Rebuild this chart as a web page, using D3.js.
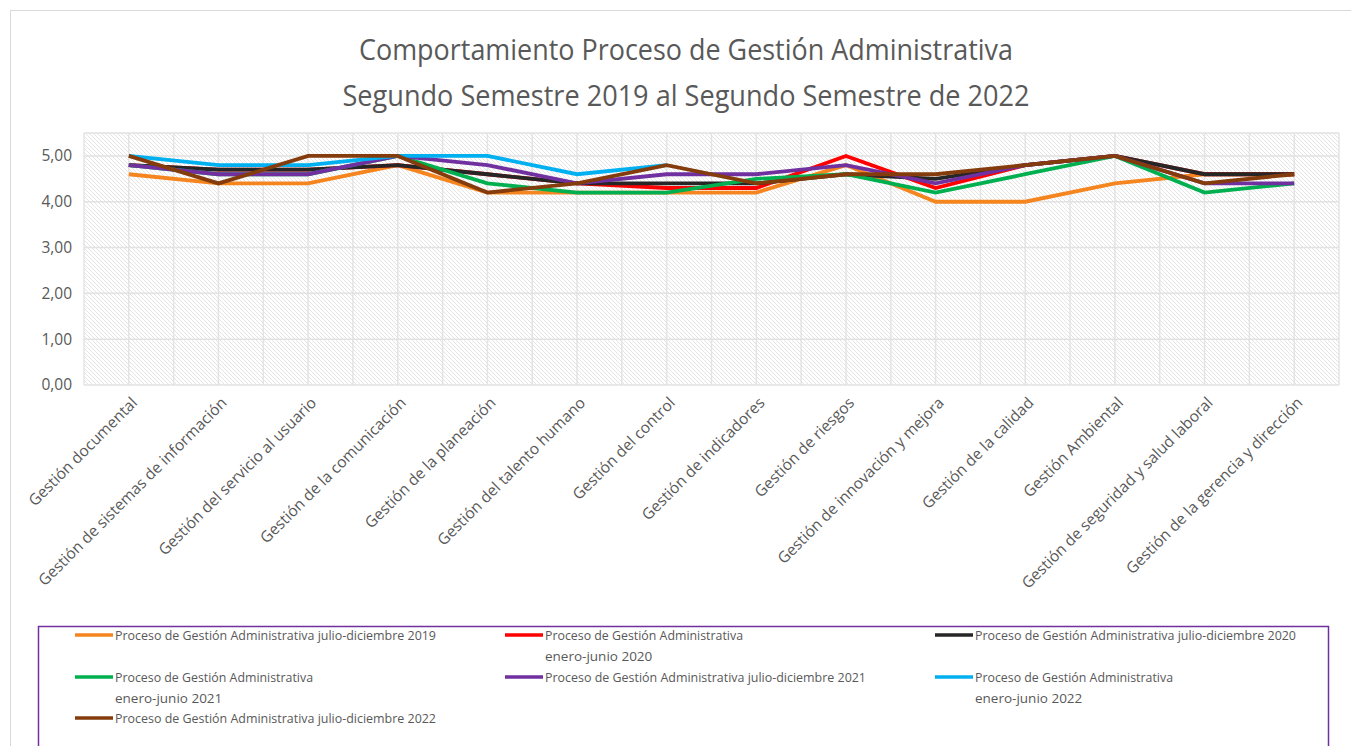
<!DOCTYPE html>
<html lang="es">
<head>
<meta charset="utf-8">
<script src="https://cdn.jsdelivr.net/npm/d3@7"></script>
<style>
  html, body { margin: 0; padding: 0; background: #fff; }
  svg { display: block; font-family: "Open Sans", "Noto Sans", sans-serif; }
</style>
</head>
<body>
<svg id="chart" width="1351" height="746"></svg>
<script>
// Áreas evaluadas del proceso
const categories = [
  "Gestión documental",
  "Gestión de sistemas de información",
  "Gestión del servicio al usuario",
  "Gestión de la comunicación",
  "Gestión de la planeación",
  "Gestión del talento humano",
  "Gestión del control",
  "Gestión de indicadores",
  "Gestión de riesgos",
  "Gestión de innovación y mejora",
  "Gestión de la calidad",
  "Gestión Ambiental",
  "Gestión de seguridad y salud laboral",
  "Gestión de la gerencia y dirección"
];

// Calificaciones por semestre
const jd2019 = [4.6, 4.4, 4.4, 4.8, 4.2, 4.2, 4.2, 4.2, 4.8, 4.0, 4.0, 4.4, 4.6, 4.6];
const ej2020 = [4.8, 4.7, 4.7, 4.8, 4.6, 4.4, 4.3, 4.3, 5.0, 4.3, 4.8, 5.0, 4.6, 4.6];
const jd2020 = [4.8, 4.7, 4.7, 4.8, 4.6, 4.4, 4.4, 4.4, 4.6, 4.5, 4.8, 5.0, 4.6, 4.6];
const ej2021 = [4.8, 4.6, 4.6, 5.0, 4.4, 4.2, 4.2, 4.5, 4.6, 4.2, 4.6, 5.0, 4.2, 4.4];
const jd2021 = [4.8, 4.6, 4.6, 5.0, 4.8, 4.4, 4.6, 4.6, 4.8, 4.4, 4.8, 5.0, 4.4, 4.4];
const ej2022 = [5.0, 4.8, 4.8, 5.0, 5.0, 4.6, 4.8, null, null, null, null, null, null, null];
const jd2022 = [5.0, 4.4, 5.0, 5.0, 4.2, 4.4, 4.8, 4.4, 4.6, 4.6, 4.8, 5.0, 4.4, 4.6];

const yTicks = [0, 1, 2, 3, 4, 5];

const titleLines = [
  "Comportamiento Proceso de Gestión Administrativa",
  "Segundo Semestre 2019 al Segundo Semestre de 2022"
];

const series = [
  { name: ["Proceso de Gestión Administrativa julio-diciembre 2019"], values: jd2019, color: "#F5851F" },
  { name: ["Proceso de Gestión Administrativa", "enero-junio 2020"], values: ej2020, color: "#FF0000" },
  { name: ["Proceso de Gestión Administrativa julio-diciembre 2020"], values: jd2020, color: "#262626" },
  { name: ["Proceso de Gestión Administrativa", "enero-junio 2021"], values: ej2021, color: "#00B050" },
  { name: ["Proceso de Gestión Administrativa julio-diciembre 2021"], values: jd2021, color: "#7030A0" },
  { name: ["Proceso de Gestión Administrativa", "enero-junio 2022"], values: ej2022, color: "#00B0F0" },
  { name: ["Proceso de Gestión Administrativa julio-diciembre 2022"], values: jd2022, color: "#843C0C" }
];

const svg = d3.select("#chart");
const textColor = "#595959";

// chart frame
svg.append("rect")
  .attr("x", 10.5).attr("y", 10.5)
  .attr("width", 1345).attr("height", 745)
  .attr("fill", "#fff").attr("stroke", "#d9d9d9");

// title
svg.append("g").selectAll("text")
  .data(titleLines)
  .join("text")
  .attr("x", 686)
  .attr("y", (d, i) => 60 + i * 46)
  .attr("text-anchor", "middle")
  .attr("font-size", 30)
  .attr("fill", textColor)
  .attr("textLength", (d, i) => i === 0 ? 654 : 687)
  .attr("lengthAdjust", "spacingAndGlyphs")
  .text(d => d);

// plot area
const plot = { left: 84, right: 1339, top: 133, bottom: 385 };

const x = d3.scalePoint()
  .domain(categories)
  .range([plot.left, plot.right])
  .padding(0.5);

const y = d3.scaleLinear()
  .domain([0, 5.5])
  .range([plot.bottom, plot.top]);

// diagonal hatch fill
const defs = svg.append("defs");
const pat = defs.append("pattern")
  .attr("id", "hatch")
  .attr("patternUnits", "userSpaceOnUse")
  .attr("width", 4).attr("height", 4);
pat.append("rect").attr("width", 4).attr("height", 4).attr("fill", "#ffffff");
pat.append("path")
  .attr("d", "M-1,-1 L5,5 M-1,3 L1,5 M3,-1 L5,1")
  .attr("stroke", "#e1e1e1")
  .attr("stroke-width", 0.9);

svg.append("rect")
  .attr("x", plot.left).attr("y", plot.top)
  .attr("width", plot.right - plot.left)
  .attr("height", plot.bottom - plot.top)
  .attr("fill", "url(#hatch)");

// vertical grid: category centres and band edges
const step = x.step();
const vLines = [];
categories.forEach(c => { vLines.push(x(c) - step / 2); vLines.push(x(c)); });
vLines.push(x(categories[categories.length - 1]) + step / 2);

svg.append("g").selectAll("line")
  .data(vLines)
  .join("line")
  .attr("x1", d => d).attr("x2", d => d)
  .attr("y1", plot.top).attr("y2", plot.bottom)
  .attr("stroke", "#e4e4e4").attr("stroke-width", 1.5);

// horizontal grid
svg.append("g").selectAll("line")
  .data(yTicks.concat([5.5]))
  .join("line")
  .attr("x1", plot.left).attr("x2", plot.right)
  .attr("y1", d => y(d)).attr("y2", d => y(d))
  .attr("stroke", "#e2e2e2").attr("stroke-width", 1.5);

// y axis labels
const fmt = d => d.toFixed(2).replace(".", ",");
const yAxis = d3.axisLeft(y).tickValues(yTicks).tickFormat(fmt).tickSize(0).tickPadding(12);
const yg = svg.append("g")
  .attr("transform", `translate(${plot.left},0)`)
  .call(yAxis);
yg.select(".domain").remove();
yg.selectAll("text")
  .attr("font-size", 15.5)
  .attr("fill", textColor)
  .attr("font-family", "'Open Sans', sans-serif");

// x axis labels, rotated
const xAxis = d3.axisBottom(x).tickSize(0).tickPadding(0);
const xg = svg.append("g")
  .attr("transform", `translate(0,${plot.bottom})`)
  .call(xAxis);
xg.select(".domain").remove();
xg.selectAll(".tick text")
  .attr("text-anchor", "end")
  .attr("font-size", 15.5)
  .attr("fill", textColor)
  .attr("font-family", "'Open Sans', sans-serif")
  .attr("dy", "0.35em")
  .attr("y", 0)
  .attr("transform", "translate(5,15) rotate(-45)");

// lines
const line = d3.line()
  .defined(d => d != null)
  .x((d, i) => x(categories[i]))
  .y(d => y(d));

svg.append("g").selectAll("path")
  .data(series)
  .join("path")
  .attr("fill", "none")
  .attr("stroke", d => d.color)
  .attr("stroke-width", 3.8)
  .attr("stroke-linejoin", "miter")
  .attr("d", d => line(d.values));

// legend
svg.append("rect")
  .attr("x", 38.5).attr("y", 626.5)
  .attr("width", 1290).attr("height", 140)
  .attr("fill", "none")
  .attr("stroke", "#7030A0").attr("stroke-width", 1.5);

const colX = [75, 505, 935];
const rowY = [635, 677, 718];
const legend = svg.append("g").selectAll("g")
  .data(series)
  .join("g")
  .attr("transform", (d, i) => `translate(${colX[i % 3]},${rowY[Math.floor(i / 3)]})`);

legend.append("line")
  .attr("x1", 0).attr("x2", 38)
  .attr("y1", 0).attr("y2", 0)
  .attr("stroke", d => d.color)
  .attr("stroke-width", 3.5);

legend.each(function (d) {
  d3.select(this).selectAll("text")
    .data(d.name)
    .join("text")
    .attr("x", 40)
    .attr("y", (t, j) => j * 21)
    .attr("dy", "0.35em")
    .attr("font-size", 13.5)
    .attr("fill", textColor)
    .attr("textLength", t => t.length > 40 ? 321 : (t.startsWith("Proceso") ? 198 : null))
    .attr("lengthAdjust", "spacingAndGlyphs")
    .text(t => t);
});
</script>
</body>
</html>
